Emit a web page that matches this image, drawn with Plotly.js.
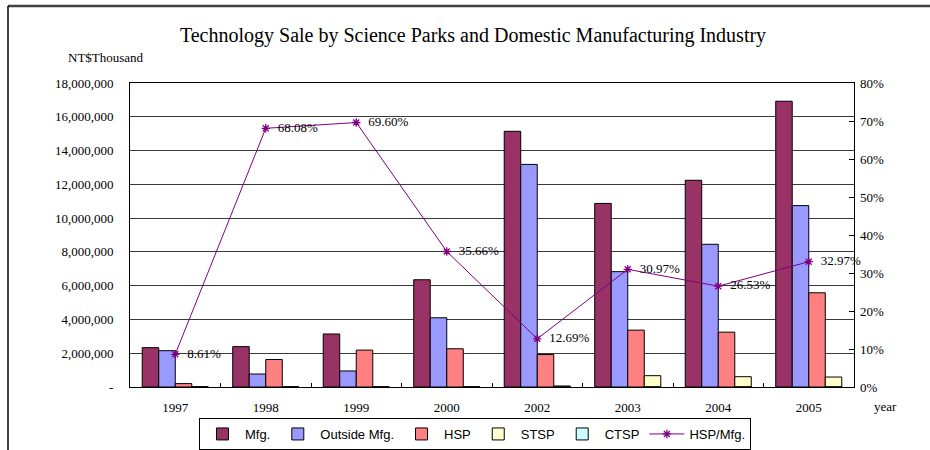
<!DOCTYPE html>
<html>
<head>
<meta charset="utf-8">
<script src="https://cdn.plot.ly/plotly-3.0.1.min.js"></script>
<style>html,body{margin:0;padding:0;background:#fff;}#chart{width:930px;height:450px;}</style>
</head>
<body>
<div id="chart"></div>
<script>
// ---- data ----
const years = ['1997', '1998', '1999', '2000', '2002', '2003', '2004', '2005'];
const mfg = [2330000, 2390000, 3140000, 6350000, 15140000, 10870000, 12240000, 16920000];
const outsideMfg = [2150000, 770000, 950000, 4100000, 13180000, 6830000, 8450000, 10740000];
const hsp = [200600, 1627000, 2185000, 2264000, 1921000, 3366000, 3247000, 5578000];
const stsp = [0, 0, 0, 0, 60000, 670000, 610000, 590000];
const ctsp = [0, 0, 0, 0, 0, 0, 0, 0];
const hspRatio = [0.0861, 0.6808, 0.6960, 0.3566, 0.1269, 0.3097, 0.2653, 0.3297];
const hspRatioLabels = ['8.61%', '68.08%', '69.60%', '35.66%', '12.69%', '30.97%', '26.53%', '32.97%'];
const leftTickVals = [0, 2000000, 4000000, 6000000, 8000000, 10000000, 12000000, 14000000, 16000000, 18000000];
const leftTickText = ['-', '2,000,000', '4,000,000', '6,000,000', '8,000,000', '10,000,000', '12,000,000', '14,000,000', '16,000,000', '18,000,000'];
const rightTickVals = [0, 0.1, 0.2, 0.3, 0.4, 0.5, 0.6, 0.7, 0.8];
const rightTickText = ['0%', '10%', '20%', '30%', '40%', '50%', '60%', '70%', '80%'];

const serif = 'Liberation Serif, Times New Roman, serif';
const sans = 'Liberation Sans, Arial, sans-serif';
const edge = {color: '#000', width: 1};

function barTrace(name, vals, color, group) {
  return {type: 'bar', name: name, x: years, y: vals, offsetgroup: group,
    marker: {color: color, line: edge}, hoverinfo: 'skip'};
}

const traces = [
  barTrace('Mfg.', mfg, '#993366', 'a'),
  barTrace('Outside Mfg.', outsideMfg, '#9999FF', 'b'),
  barTrace('HSP', hsp, '#FF8080', 'c'),
  barTrace('STSP', stsp, '#FFFFCC', 'd'),
  barTrace('CTSP', ctsp, '#CCFFFF', 'd'),
  {type: 'scatter', mode: 'lines+markers+text', name: 'HSP/Mfg.', x: years, y: hspRatio,
   yaxis: 'y2', text: hspRatioLabels, texttemplate: '\u00a0\u00a0%{text}', textposition: 'middle right',
   textfont: {family: serif, size: 13, color: '#000'}, cliponaxis: false,
   line: {color: '#800080', width: 1},
   marker: {symbol: 'asterisk-open', size: 7, color: '#800080', line: {color: '#800080', width: 1.3}}}
];

const L = 130, R = 854, T = 83, B = 387;
const px = v => (v - L) / (R - L);
const py = v => (B - v) / (B - T);

const layout = {
  width: 930, height: 450,
  margin: {l: L, r: 930 - R, t: T, b: 450 - B, pad: 0},
  paper_bgcolor: '#fff', plot_bgcolor: '#fff',
  showlegend: true,
  barmode: 'group', bargap: 0.27, bargroupgap: 0,
  title: {text: 'Technology Sale by Science Parks and Domestic Manufacturing Industry',
    font: {family: serif, size: 20, color: '#000'}, x: 473 / 930, xref: 'container', xanchor: 'center',
    y: 1 - 35 / 450, yref: 'container', yanchor: 'middle'},
  xaxis: {type: 'category', showline: true, linecolor: '#000', linewidth: 1, mirror: true,
    ticks: 'inside', ticklen: 4, tickcolor: '#000', tickson: 'boundaries',
    showgrid: false, tickfont: {family: serif, size: 13, color: '#000'}, ticklabelstandoff: 8},
  yaxis: {range: [0, 18000000], tickvals: leftTickVals, ticktext: leftTickText,
    showline: true, linecolor: '#000', linewidth: 1, mirror: true,
    showgrid: true, gridcolor: '#3a3a3a', gridwidth: 1, zeroline: false,
    ticks: '', tickfont: {family: serif, size: 13, color: '#000'}, ticklabelstandoff: 13},
  yaxis2: {range: [0, 0.8], overlaying: 'y', side: 'right', tickvals: rightTickVals, ticktext: rightTickText,
    showgrid: false, zeroline: false, showline: false,
    ticks: 'inside', ticklen: 5, tickcolor: '#000',
    tickfont: {family: serif, size: 13, color: '#000'}, ticklabelstandoff: 5},
  legend: {orientation: 'h', x: 199 / 930, xref: 'container', xanchor: 'left',
    y: 1 - 418 / 450, yref: 'container', yanchor: 'top',
    bordercolor: '#000', borderwidth: 1, bgcolor: '#fff',
    font: {family: sans, size: 13, color: '#000'}, traceorder: 'normal',
    itemwidth: 35, tracegroupgap: 0},
  annotations: [
    {text: 'NT$Thousand', xref: 'paper', yref: 'paper', x: px(106), y: py(57), xanchor: 'center', yanchor: 'middle',
     showarrow: false, font: {family: serif, size: 13, color: '#000'}},
    {text: 'year', xref: 'paper', yref: 'paper', x: px(872), y: py(406), xanchor: 'left', yanchor: 'middle',
     showarrow: false, font: {family: serif, size: 13, color: '#000'}}
  ],
  shapes: [
    {type: 'line', xref: 'paper', yref: 'paper', x0: px(8), x1: px(930), y0: py(6), y1: py(6),
     line: {color: '#404040', width: 2.5}},
    {type: 'line', xref: 'paper', yref: 'paper', x0: px(8), x1: px(8), y0: py(6), y1: py(450),
     line: {color: '#000', width: 1.5}}
  ]
};

Plotly.newPlot('chart', traces, layout, {staticPlot: true, displayModeBar: false});
</script>
</body>
</html>
